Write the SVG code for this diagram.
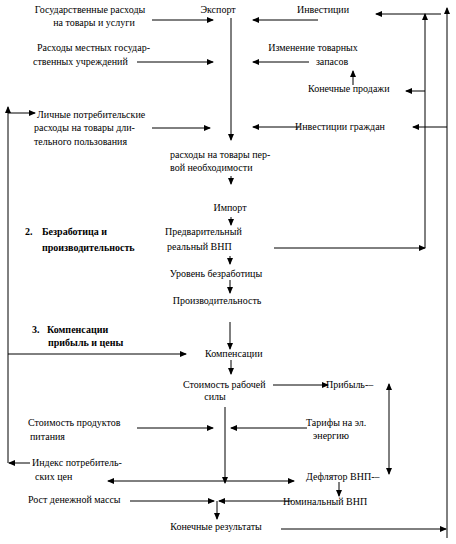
<svg xmlns="http://www.w3.org/2000/svg" width="456" height="544" viewBox="0 0 456 544" font-family="'Liberation Serif', 'Times New Roman', 'DejaVu Serif', serif">
<defs>
<marker id="ah" markerWidth="7" markerHeight="6" refX="6" refY="3" orient="auto" markerUnits="userSpaceOnUse">
<path d="M0,0 L7,3 L0,6 Z" fill="#000"/>
</marker>
<style>
text{font-family:'Liberation Serif','Times New Roman','DejaVu Serif',serif;font-size:10px;fill:#000}
.b{font-weight:bold}
.m{text-anchor:middle}
.c line,.c path{stroke:#000;stroke-width:1;fill:none}
.a{marker-end:url(#ah)}
</style>
</defs>
<rect width="456" height="544" fill="#fff"/>
<g id="n-gov"><text class="m" x="90" y="13">Государственные расходы</text><text class="m" x="94" y="26">на товары и услуги</text></g>
<g id="n-export"><text class="m" x="218" y="13">Экспорт</text></g>
<g id="n-invest"><text class="m" x="323" y="13">Инвестиции</text></g>
<g id="n-local"><text x="37" y="51">Расходы местных государ-</text><text x="33" y="65">ственных учреждений</text></g>
<g id="n-stock"><text class="m" x="313" y="51">Изменение товарных</text><text class="m" x="332" y="65">запасов</text></g>
<g id="n-sales"><text x="308" y="92">Конечные продажи</text></g>
<g id="n-personal"><text x="37" y="118">Личные потребительские</text><text x="34" y="131">расходы на товары дли-</text><text x="34" y="145">тельного пользования</text></g>
<g id="n-citizens"><text x="295" y="130">Инвестиции граждан</text></g>
<g id="n-necessity"><text x="170" y="158">расходы на товары пер-</text><text x="170" y="171">вой необходимости</text></g>
<g id="n-import"><text class="m" x="230" y="211">Импорт</text></g>
<g id="n-prelim"><text x="165" y="235">Предварительный</text><text x="167" y="250">реальный  ВНП</text></g>
<g id="h-2"><text class="b" x="25" y="235">2.</text><text class="b" x="42" y="235">Безработица и</text><text class="b" x="42" y="251">производительность</text></g>
<g id="n-unemp"><text class="m" x="216" y="277">Уровень безработицы</text></g>
<g id="n-prod"><text class="m" x="217" y="304">Производительность</text></g>
<g id="h-3"><text class="b" x="32" y="333">3.</text><text class="b" x="47" y="333">Компенсации</text><text class="b" x="48" y="346">прибыль и цены</text></g>
<g id="n-comp"><text x="205" y="357">Компенсации</text></g>
<g id="n-labor"><text x="183" y="388">Стоимость рабочей</text><text class="m" x="215" y="400">силы</text></g>
<g id="n-profit"><text x="326" y="388">Прибыль-–</text></g>
<g id="n-food"><text x="28" y="426">Стоимость продуктов</text><text x="30" y="440">питания</text></g>
<g id="n-tariff"><text x="306" y="426">Тарифы на эл.</text><text x="313" y="439">энергию</text></g>
<g id="n-cpi"><text x="32" y="466">Индекс потребитель-</text><text x="35" y="480">ских  цен</text></g>
<g id="n-deflator"><text x="306" y="480">Дефлятор ВНП-–</text></g>
<g id="n-money"><text x="28" y="503">Рост денежной массы</text></g>
<g id="n-nominal"><text x="283" y="505">Номинальный ВНП</text></g>
<g id="n-final"><text class="m" x="216" y="530">Конечные результаты</text></g>
<g id="connectors" class="c">
<line class="a" x1="152" y1="20" x2="213" y2="20"/>
<line class="a" x1="137" y1="62" x2="213" y2="62"/>
<line class="a" x1="152" y1="128" x2="210" y2="128"/>
<line class="a" x1="231" y1="18" x2="231" y2="140"/>
<line class="a" x1="318" y1="20" x2="253" y2="20"/>
<line class="a" x1="309" y1="62" x2="253" y2="62"/>
<line class="a" x1="353" y1="85" x2="353" y2="71"/>
<line class="a" x1="300" y1="127" x2="253" y2="127"/>
<line class="a" x1="274" y1="248" x2="425" y2="248"/>
<line class="a" x1="425" y1="248" x2="425" y2="14"/>
<line class="a" x1="425" y1="91" x2="406" y2="91"/>
<line class="a" x1="441" y1="14" x2="376" y2="14"/>
<line class="a" x1="281" y1="529" x2="446" y2="529"/>
<line class="a" x1="447" y1="538" x2="447" y2="8"/>
<line class="a" x1="447" y1="127" x2="413" y2="127"/>
<line class="a" x1="231" y1="176" x2="231" y2="184"/>
<line class="a" x1="231" y1="217" x2="231" y2="225"/>
<line class="a" x1="230" y1="256" x2="230" y2="264"/>
<line class="a" x1="230" y1="280" x2="230" y2="293"/>
<line class="a" x1="230" y1="322" x2="230" y2="349"/>
<line class="a" x1="30" y1="463" x2="9" y2="463"/>
<line class="a" x1="8" y1="463" x2="8" y2="107"/>
<line class="a" x1="8" y1="113" x2="35" y2="113"/>
<line class="a" x1="8" y1="354" x2="186" y2="354"/>
<line class="a" x1="231" y1="360" x2="231" y2="374"/>
<line class="a" x1="273" y1="385" x2="328" y2="385"/>
<line class="a" x1="225" y1="407" x2="225" y2="483"/>
<line class="a" x1="137" y1="428" x2="213" y2="428"/>
<line class="a" x1="307" y1="428" x2="231" y2="428"/>
<line class="a" x1="389" y1="430" x2="389" y2="384"/>
<line class="a" x1="389" y1="430" x2="389" y2="474"/>
<line class="a" x1="225" y1="481" x2="108" y2="481"/>
<line class="a" x1="225" y1="481" x2="294" y2="481"/>
<line class="a" x1="339" y1="482" x2="339" y2="496"/>
<line class="a" x1="292" y1="501" x2="219" y2="501"/>
<line class="a" x1="130" y1="501" x2="214" y2="501"/>
<line class="a" x1="217" y1="501" x2="217" y2="519"/>
</g>
</svg>
